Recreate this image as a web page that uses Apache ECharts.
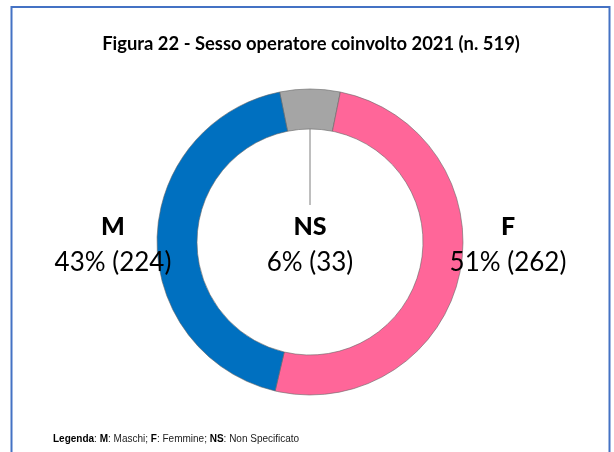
<!DOCTYPE html>
<html>
<head>
<meta charset="utf-8">
<script src="https://cdn.jsdelivr.net/npm/echarts@6/dist/echarts.min.js"></script>
<style>
  html, body { margin: 0; padding: 0; background: #fff; }
  #main { width: 614px; height: 452px; }
</style>
</head>
<body>
<div id="main"></div>
<script>
// dati della figura
const categories = ['NS', 'F', 'M'];
const values = [33, 262, 224];
const pctLabels = [6, 51, 43];
const colors = ['#A5A5A5', '#FF6699', '#0070C0'];

let myChart = echarts.init(document.getElementById('main'));

const total = values.reduce((a, b) => a + b, 0);
// la fetta NS centrata in alto
const startAngle = 90 + values[0] / total * 180;

// posizioni delle etichette (centro del blocco di testo)
const labelPos = {
  NS: [310, 245],
  F: [508, 245],
  M: [113, 245]
};

let chartOption = {
  backgroundColor: '#fff',
  animation: false,
  graphic: [
    {
      type: 'rect',
      shape: { x: 11.5, y: 7, width: 598, height: 470 },
      style: { fill: 'none', stroke: '#4472C4', lineWidth: 2 },
      silent: true
    },
    {
      type: 'text',
      x: 311,
      y: 44,
      style: {
        text: 'Figura 22 - Sesso operatore coinvolto 2021 (n. ' + total + ')',
        font: 'bold 18.4px Lato',
        fill: '#000',
        align: 'center',
        verticalAlign: 'middle'
      }
    },
    {
      type: 'text',
      x: 53,
      y: 439,
      style: {
        text: '{b|Legenda}: {b|M}: Maschi; {b|F}: Femmine; {b|NS}: Non Specificato',
        fontFamily: 'Liberation Sans',
        fontSize: 10,
        fill: '#222',
        verticalAlign: 'middle',
        rich: {
          b: { fontWeight: 'bold', fontFamily: 'Liberation Sans', fontSize: 10, fill: '#000' }
        }
      }
    }
  ],
  series: [
    {
      type: 'pie',
      center: [310, 242],
      radius: [113, 153],
      startAngle: startAngle,
      clockwise: true,
      silent: true,
      itemStyle: { borderColor: '#666', borderWidth: 0.6 },
      data: categories.map((c, i) => ({
        name: c,
        value: values[i],
        itemStyle: { color: colors[i] },
        label: { position: c === 'NS' ? 'outside' : 'inside' },
        labelLine: { show: c === 'NS' }
      })),
      label: {
        show: true,
        overflow: 'none',
        formatter: function (p) {
          return '{n|' + p.name + '}\n{v|' + pctLabels[p.dataIndex] + '% (' + p.value + ')}';
        },
        rich: {
          n: { fontFamily: 'Lato', fontWeight: 900, fontSize: 25, color: '#000', lineHeight: 36, align: 'center' },
          v: { fontFamily: 'Lato', fontSize: 26, color: '#000', lineHeight: 36, align: 'center' }
        }
      },
      labelLine: {
        show: true,
        lineStyle: { color: '#7f7f7f', width: 1 }
      },
      labelLayout: function (params) {
        const name = categories[params.dataIndex];
        const pos = labelPos[name];
        const res = {
          x: pos[0],
          y: pos[1],
          align: 'center',
          verticalAlign: 'middle'
        };
        if (name === 'NS') {
          res.labelLinePoints = [[310, 108], [310, 150], [310, 205]];
        }
        return res;
      }
    }
  ]
};

chartOption && myChart.setOption(chartOption);
window.onresize = myChart.resize;
</script>
</body>
</html>
